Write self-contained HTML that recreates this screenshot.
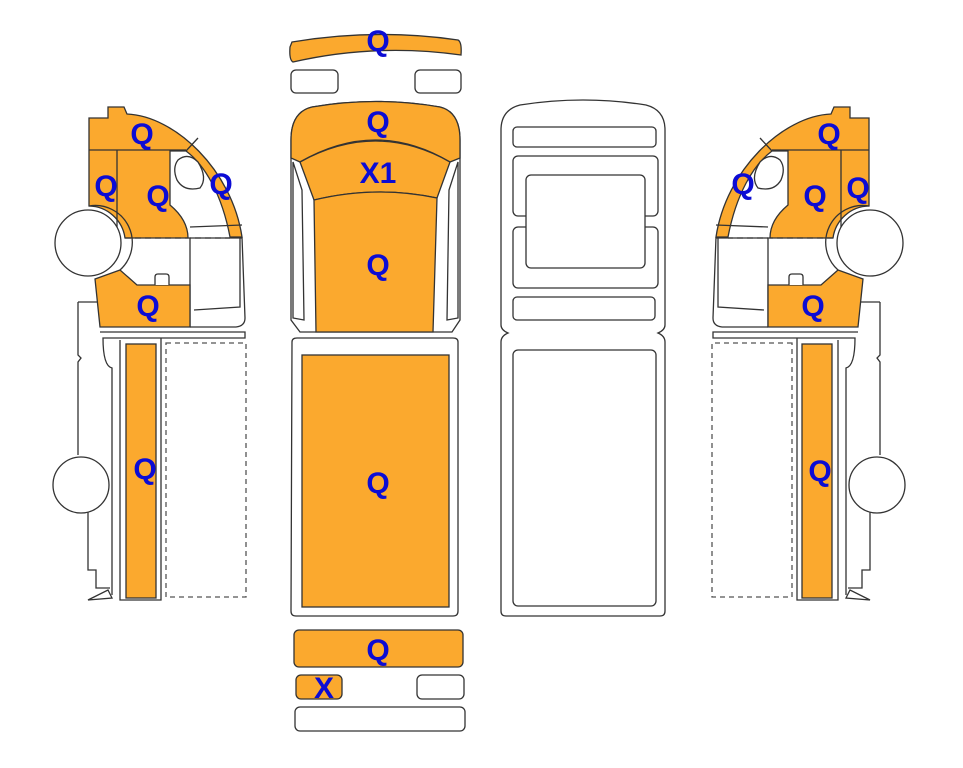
<!DOCTYPE html>
<html><head><meta charset="utf-8"><style>
html,body{margin:0;padding:0;background:#fff}
svg{display:block}
text{font-family:"Liberation Sans",Arial,sans-serif;font-weight:bold;font-size:30px;fill:#0c0cd4;text-anchor:middle}
</style></head><body>
<svg width="963" height="768" viewBox="0 0 963 768" xmlns="http://www.w3.org/2000/svg">
<defs>
<g id="side" stroke="#333" stroke-width="1.3" fill="none">
  <path d="M89,118 H108 V107 H124 L127,114 C175,116 232,170 242,237 H230 C222,195 205,165 186,151 H170 V205 Q188,220 188,238 H125 A37,37 0 0 0 89,206 Z" fill="#fba92e"/>
  <path d="M89,150 H186" />
  <path d="M186,151 L198,138" />
  <path d="M117,150 V238" />
  <path d="M178,160 Q188,152 198,162 Q208,178 200,188 Q184,192 177,180 Q172,168 178,160 Z" fill="#fff"/>
  <path d="M125,238 H230" stroke-dasharray="6,4"/>
  <path d="M190,238 H242" />
  <path d="M190,227 L242,225" />
  <path d="M242,237 L245,318 Q245,326 236,327 H190" />
  <path d="M190,238 V327" />
  <path d="M194,310 L240,307 V238" />
  <circle cx="88" cy="243" r="33" fill="#fff"/>
  <path d="M89,206 A37,37 0 0 1 120,270" />
  <path d="M95,279 L120,270 L137,285 H190 V327 H100 Z" fill="#fba92e"/>
  <path d="M155,285 V277 Q155,274 158,274 H166 Q169,274 169,277 V285" fill="#fff"/>
  <path d="M78,302 H97" />
  <path d="M78,302 V355 L81,358 L78,362 V455" />
  <path d="M100,332 H245 V338 H103 Q103,366 112,368 V595" />
  <path d="M82,512 H88 V570 H96 V588 H110" />
  <path d="M88,600 L108,590 L112,598 Z" fill="#fff"/>
  <circle cx="81" cy="485" r="28" fill="#fff"/>
  <path d="M120,340 V600 H161 V338" />
  <rect x="126" y="344" width="30" height="254" fill="#fba92e"/>
  <rect x="166" y="343" width="80" height="254" stroke="#555" stroke-dasharray="5,4"/>
</g>
</defs>
<use href="#side"/>
<use href="#side" transform="translate(958,0) scale(-1,1)"/>

<g stroke="#333" stroke-width="1.3" fill="none">
  <path d="M292,42 Q376,28 458,40 Q462,42 461,55 Q376,43 293,62 Q289,60 290,47 Z" fill="#fba92e"/>
  <rect x="291" y="70" width="47" height="23" rx="5"/>
  <rect x="415" y="70" width="46" height="23" rx="5"/>
  <path d="M291,140 Q291,112 312,107 Q376,96 440,107 Q460,112 460,140 V320 L452,332 H300 L291,320 Z"/>
  <path d="M291,140 Q291,112 312,107 Q376,96 440,107 Q460,112 460,140 V158 L450,162 Q376,118 300,162 L291,158 Z" fill="#fba92e"/>
  <path d="M300,162 Q376,120 450,162 L437,198 Q376,185 314,200 Z" fill="#fba92e"/>
  <path d="M314,200 Q376,185 437,198 L433,332 H316 Z" fill="#fba92e"/>
  <path d="M293,162 V318 L304,320 L302,190 Z"/>
  <path d="M458,162 V318 L447,320 L449,190 Z"/>
  <path d="M292,342 Q292,338 297,338 H453 Q458,338 458,342 V611 Q458,616 453,616 H296 Q291,616 291,611 Z"/>
  <rect x="302" y="355" width="147" height="252" fill="#fba92e"/>
  <rect x="294" y="630" width="169" height="37" rx="5" fill="#fba92e"/>
  <rect x="296" y="675" width="46" height="24" rx="5" fill="#fba92e"/>
  <rect x="417" y="675" width="47" height="24" rx="5"/>
  <rect x="295" y="707" width="170" height="24" rx="5"/>
  <path d="M501,130 Q501,110 520,105 Q583,95 646,105 Q665,110 665,130 V325 Q665,330 658,333 Q665,336 665,342 V611 Q665,616 660,616 H506 Q501,616 501,611 V342 Q501,336 508,333 Q501,330 501,325 Z"/>
  <rect x="513" y="127" width="143" height="20" rx="4"/>
  <rect x="513" y="156" width="145" height="60" rx="5"/>
  <rect x="513" y="227" width="145" height="61" rx="5"/>
  <rect x="526" y="175" width="119" height="93" rx="5" fill="#fff"/>
  <rect x="513" y="297" width="142" height="23" rx="4"/>
  <rect x="513" y="350" width="143" height="256" rx="5"/>
</g>

<text x="142" y="144">Q</text>
<text x="106" y="196">Q</text>
<text x="158" y="206">Q</text>
<text x="221" y="194">Q</text>
<text x="148" y="316">Q</text>
<text x="145" y="479">Q</text>
<text x="829" y="144">Q</text>
<text x="743" y="194">Q</text>
<text x="815" y="206">Q</text>
<text x="858" y="198">Q</text>
<text x="813" y="316">Q</text>
<text x="820" y="481">Q</text>
<text x="378" y="51">Q</text>
<text x="378" y="132">Q</text>
<text x="378" y="183">X1</text>
<text x="378" y="275">Q</text>
<text x="378" y="493">Q</text>
<text x="378" y="660">Q</text>
<text x="324" y="698">X</text>
</svg>
</body></html>
